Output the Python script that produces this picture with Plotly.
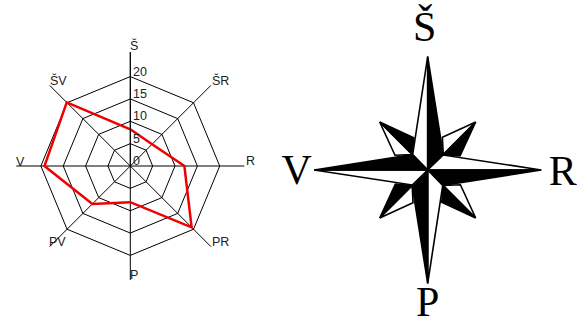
import plotly.graph_objects as go
import numpy as np

directions = ["Š", "ŠR", "R", "PR", "P", "PV", "V", "ŠV"]
values = [8.2, 6.9, 12.1, 19.4, 8.1, 12.0, 19.2, 20.1]
radial_ticks = [0, 5, 10, 15, 20]
rose_labels = ["Š", "R", "P", "V"]

W, H = 579, 324
CX, CY, RMAX = 130.3, 166.0, 114.0
RANGE_MAX = 25.5
RX, RY = 427.7, 170.0
TEXT = "#222"

fig = go.Figure()

def rot(pts, k):
    a = -k * np.pi / 2
    c, s = np.cos(a), np.sin(a)
    return [(x * c - y * s, x * s + y * c) for x, y in pts]

def poly(pts, fill):
    xs = [p[0] for p in pts] + [pts[0][0]]
    ys = [p[1] for p in pts] + [pts[0][1]]
    fig.add_trace(go.Scatter(x=xs, y=ys, mode="lines", fill="toself", fillcolor=fill,
                             line=dict(color="black", width=1.6), hoverinfo="skip",
                             showlegend=False, xaxis="x", yaxis="y"))

tip_diag = (48, 48)
diag_white = [tip_diag, (14.7, 32.7), (15.5, 15.5)]
diag_black = [tip_diag, (15.5, 15.5), (32.3, 14)]
main_white = [(0, 0), (0, 113.5), (-15, 15.5)]
main_black = [(0, 0), (0, 113.5), (15.5, 15.5)]
for k in range(4):
    poly(rot(diag_white, k), "white")
    poly(rot(diag_black, k), "black")
for k in range(4):
    poly(rot(main_white, k), "white")
    poly(rot(main_black, k), "black")

fig.add_trace(go.Scatter(x=[-3, 135, 0, -131], y=[140, -4, -135, -3], text=rose_labels, mode="text",
                         textfont=dict(family="Liberation Serif", size=42, color="black"),
                         hoverinfo="skip", showlegend=False, xaxis="x", yaxis="y", cliponaxis=False))

fig.add_trace(go.Scatterpolar(r=values + values[:1], theta=directions + directions[:1], mode="lines",
                              line=dict(color="#f00000", width=2.5), showlegend=False,
                              subplot="polar"))

fig.update_layout(
    width=W, height=H, margin=dict(l=0, r=0, t=0, b=0),
    paper_bgcolor="white", plot_bgcolor="white", showlegend=False,
    xaxis=dict(range=[-RX, W - RX], visible=False, domain=[0, 1]),
    yaxis=dict(range=[RY - H, RY], visible=False, domain=[0, 1]),
    polar=dict(
        domain=dict(x=[(CX - RMAX) / W, (CX + RMAX) / W], y=[1 - (CY + RMAX) / H, 1 - (CY - RMAX) / H]),
        gridshape="linear", bgcolor="rgba(0,0,0,0)",
        radialaxis=dict(range=[0, RANGE_MAX], tickvals=radial_ticks, angle=90, tickangle=90,
                        showline=True, linecolor="black", linewidth=1, gridcolor="black", gridwidth=1,
                        ticks="", showticklabels=False),
        angularaxis=dict(categoryorder="array", categoryarray=directions, direction="clockwise",
                         rotation=90, showline=False, gridcolor="black", gridwidth=1, ticks="",
                         showticklabels=False),
    ),
)

label_off = [(4, -120), (90, -86), (120, -5), (90, 76), (4, 109), (-73, 76), (-110, -4), (-72, -86)]
font = dict(family="Liberation Sans", size=12.5, color=TEXT)
for name, (dx, dy) in zip(directions, label_off):
    fig.add_annotation(x=(CX + dx) / W, y=1 - (CY + dy) / H, xref="paper", yref="paper", text=name,
                       xanchor="center", yanchor="middle", showarrow=False, font=font)
for v in radial_ticks:
    ypx = CY - v * RMAX / RANGE_MAX - 5
    fig.add_annotation(x=(CX + 1) / W, y=1 - ypx / H, xref="paper", yref="paper", text=str(v),
                       xanchor="left", yanchor="middle", showarrow=False, font=font)

fig.write_html("out.html", post_script="document.body.style.margin='0';",
               config={"displayModeBar": False})
